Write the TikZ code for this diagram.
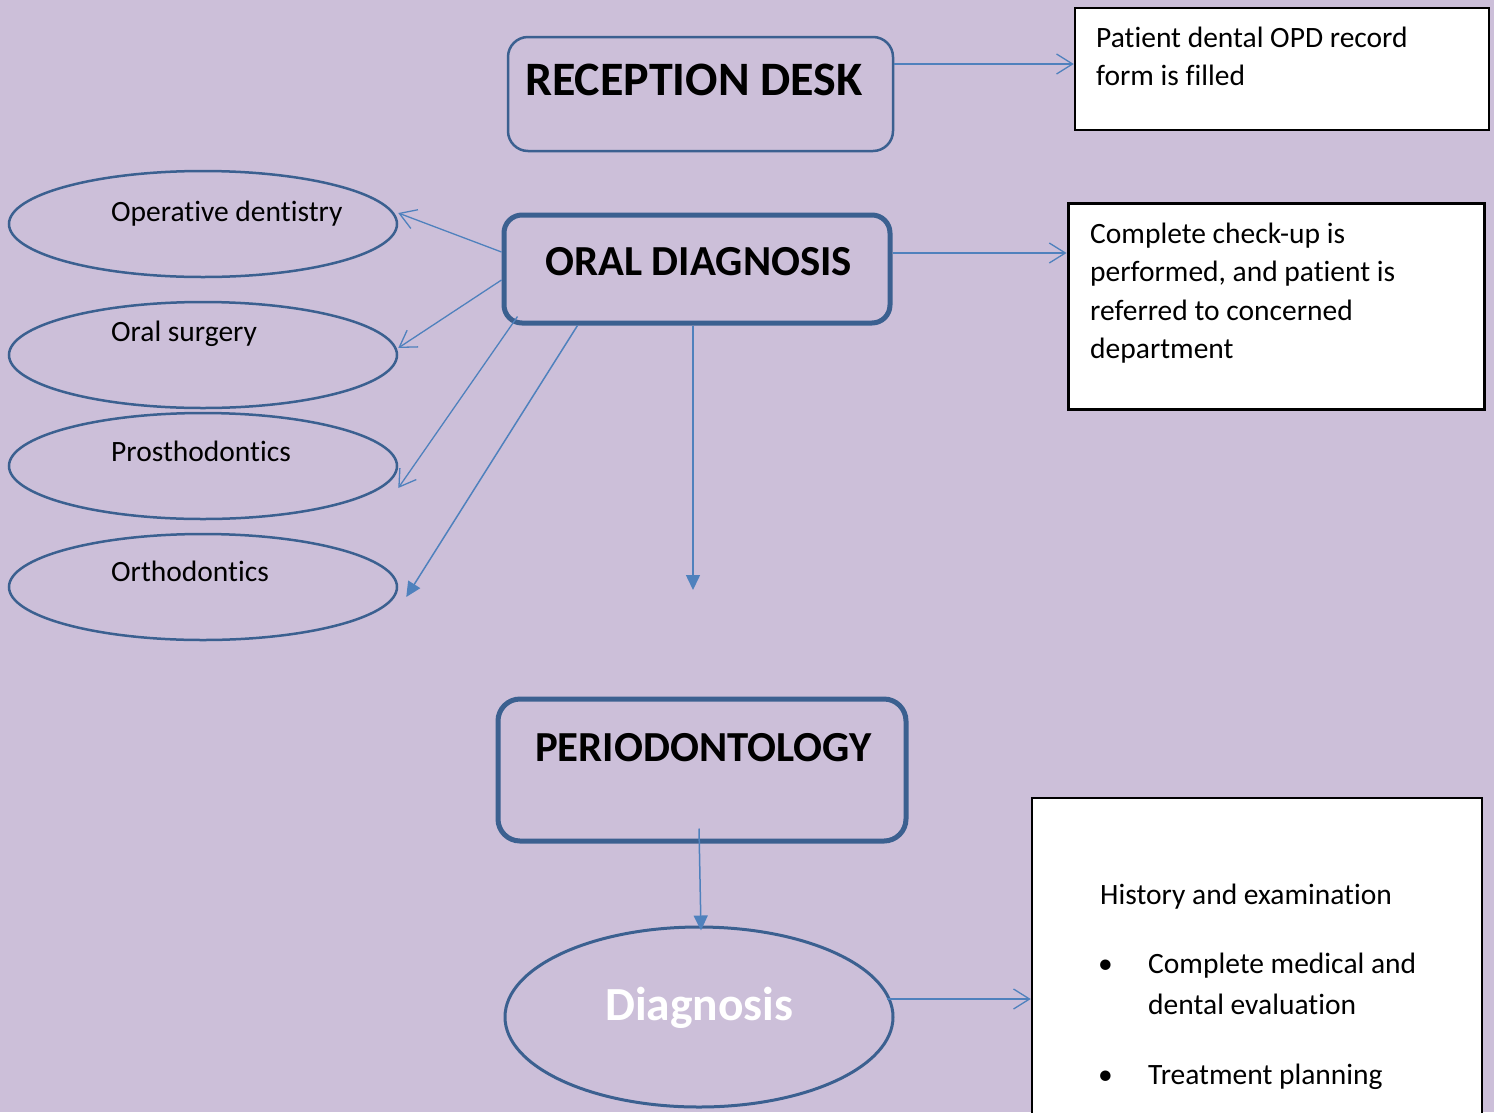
\documentclass[tikz,border=0pt]{standalone}
\usepackage{fontspec}
\setmainfont{Carlito}[Ligatures=NoCommon]
\usetikzlibrary{arrows.meta,shapes.geometric}
\definecolor{bg}{HTML}{CCBFD9}
\definecolor{edge}{HTML}{3B6090}
\definecolor{arr}{HTML}{4F81BD}
\begin{document}
\begin{tikzpicture}[x=1pt,y=-1pt,
  rbox/.style={draw=edge, inner sep=0pt},
  wbox/.style={draw=black, fill=white, inner sep=0pt},
  ell/.style={draw=edge, ellipse, inner sep=0pt, line width=2.5pt},
  openarr/.style={draw=arr, line width=1.3pt, -{Straight Barb[length=16pt,width=20pt,line width=1.3pt]}},
  fillarr/.style={draw=arr, line width=1.5pt, -{Triangle[length=15pt,width=14pt]}},
  head/.style={anchor=base west, inner sep=0pt, font=\fontsize{42.8}{50}\selectfont\bfseries},
  txt/.style={anchor=base west, inner sep=0pt, font=\fontsize{29.5}{35}\selectfont}
]
\useasboundingbox (0,0) rectangle (1494,1112);
\clip (0,0) rectangle (1494,1112);
\fill[bg] (0,0) rectangle (1494,1112);

% boxes
\node[rbox, rounded corners=20pt, line width=2.5pt, minimum width=385pt, minimum height=114pt] (rec) at (700.5,94) {};
\node[rbox, rounded corners=18pt, line width=5pt, minimum width=386pt, minimum height=108pt] (od) at (697,269) {};
\node[rbox, rounded corners=22pt, line width=5pt, minimum width=408pt, minimum height=142pt] (per) at (702,770) {};
\node[wbox, line width=2.5pt, minimum width=414pt, minimum height=122pt] (pat) at (1282,69) {};
\node[wbox, line width=3pt, minimum width=416pt, minimum height=206pt] (cb) at (1276,306) {};
\node[wbox, line width=2.5pt, minimum width=450pt, minimum height=332pt] (hb) at (1257,964) {};

% ellipses
\node[ell, minimum width=388pt, minimum height=106pt] (op) at (203,224) {};
\node[ell, minimum width=388pt, minimum height=106pt] (os) at (203,355) {};
\node[ell, minimum width=388pt, minimum height=106pt] (pr) at (203,466) {};
\node[ell, minimum width=388pt, minimum height=106pt] (or) at (203,587) {};
\node[ell, line width=3pt, minimum width=388pt, minimum height=180pt] (dg) at (699,1017) {};

% texts
\node[head, font=\fontsize{48}{54}\selectfont\bfseries] (t-rec) at (525,95) {RECEPTION DESK};
\node[head] (t-od) at (545,275) {ORAL DIAGNOSIS};
\node[head] (t-per) at (535,761) {PERIODONTOLOGY};
\node[anchor=base west, inner sep=0pt, text=white, font=\fontsize{47.5}{52}\selectfont\bfseries] (t-dg) at (605,1020) {Diagnosis};

\node[txt] (t-p1) at (1096,47) {Patient dental OPD record};
\node[txt] (t-p2) at (1096,85) {form is filled};

\node[txt] (t-c1) at (1090,243) {Complete check-up is};
\node[txt] (t-c2) at (1090,281) {performed, and patient is};
\node[txt] (t-c3) at (1090,320) {referred to concerned};
\node[txt] (t-c4) at (1090,358) {department};

\node[txt] (t-op) at (111,221) {Operative dentistry};
\node[txt] (t-os) at (111,341) {Oral surgery};
\node[txt] (t-pr) at (111,461) {Prosthodontics};
\node[txt] (t-or) at (111,581) {Orthodontics};

\node[txt] (t-h1) at (1100,904) {History and examination};
\node[txt] (b1) at (1098,973) {\textbullet};
\node[txt] (t-h2) at (1148,973) {Complete medical and};
\node[txt] (t-h3) at (1148,1014) {dental evaluation};
\node[txt] (b2) at (1098,1084) {\textbullet};
\node[txt] (t-h4) at (1148,1084) {Treatment planning};

% connectors
\coordinate (r1) at ([yshift=30pt]rec.east);
\draw[openarr] (r1) -- (r1 -| pat.west);
\coordinate (o1) at ([yshift=16pt]od.east);
\draw[openarr] (o1) -- (o1 -| cb.west);

\draw[openarr] ([yshift=17pt]od.west) -- ([yshift=11pt]op.east);
\draw[openarr] ([yshift=-11pt]od.west) -- ([yshift=7pt]os.east);
\draw[openarr] ([xshift=16pt,yshift=9pt]od.south west) -- ([yshift=-22pt]pr.east);
\draw[fillarr] ([xshift=76pt]od.south west) -- ([xshift=8pt,yshift=-10pt]or.east);

\coordinate (mid) at (693,590);
\draw[fillarr] ([xshift=-4pt]od.south) -- (mid);
\draw[fillarr] ([xshift=-3pt,yshift=15pt]per.south) -- ([xshift=2pt,yshift=-5pt]dg.north);

\coordinate (d1) at ([xshift=-8pt,yshift=18pt]dg.east);
\draw[openarr] (d1) -- (d1 -| hb.west);
\end{tikzpicture}
\end{document}
